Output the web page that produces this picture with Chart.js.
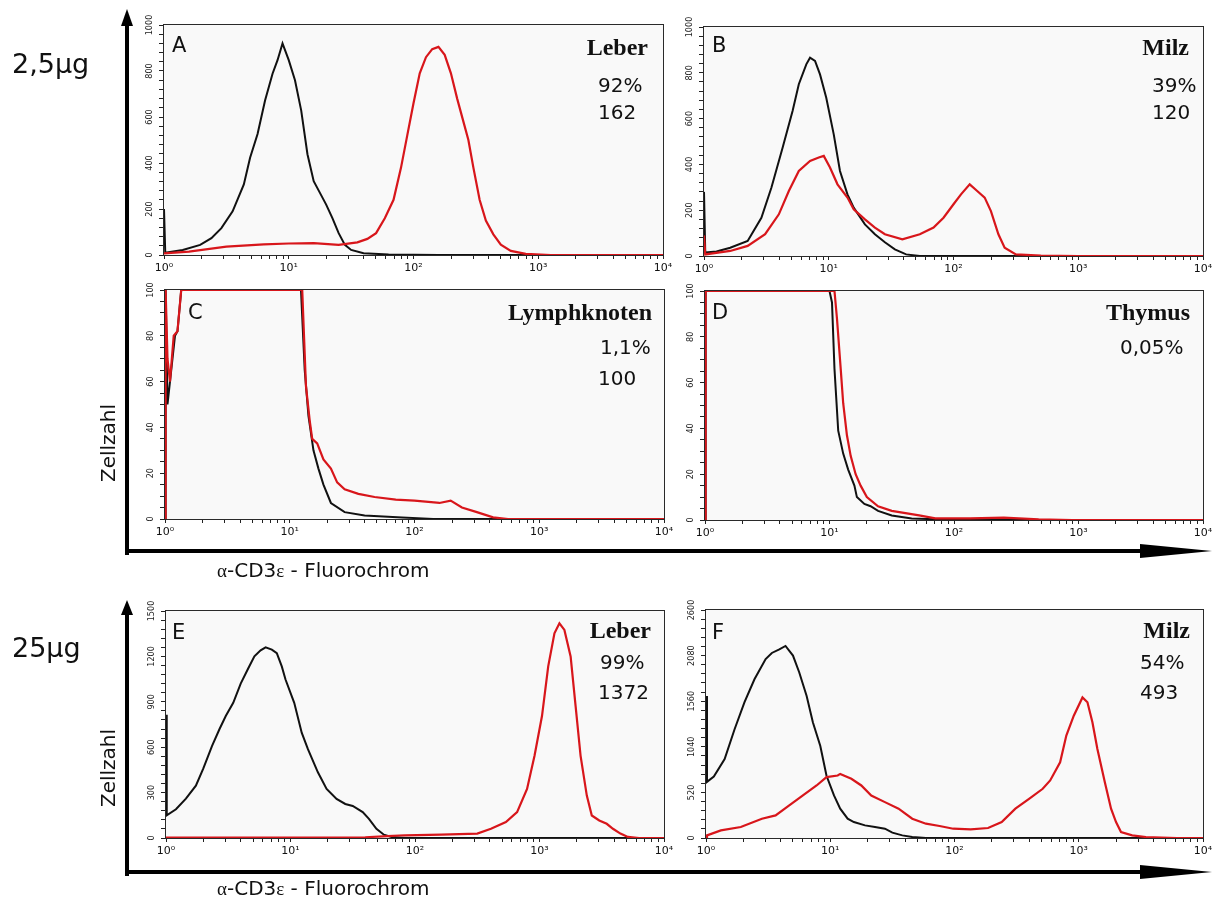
<!DOCTYPE html>
<html lang="de">
<head>
    <meta charset="UTF-8">
    <title>α-CD3ε Histogramme</title>
    <script src="https://cdn.jsdelivr.net/npm/chart.js"></script>
    <style>
        body {
            margin: 0;
            background: #fff;
            font-family: "DejaVu Sans", Arial, sans-serif;
            color: #111;
        }

        #stage {
            position: relative;
            width: 1216px;
            height: 900px;
            overflow: hidden;
        }

        #stage canvas {
            position: absolute;
        }

        #arrows {
            position: absolute;
            left: 0;
            top: 0;
            z-index: 2;
        }

        .txt {
            position: absolute;
            z-index: 3;
            line-height: 1;
            white-space: nowrap;
            transform: translateY(-50%);
        }

        .tag { font-size: 21px; }
        .organ { font-family: "Liberation Serif", "Times New Roman", serif; font-weight: bold; font-size: 24px; }
        .num { font-size: 20px; }
        .dose { font-size: 27px; }
        .axis { font-size: 20px; }
        .greek { font-family: "Liberation Serif", serif; font-size: 19px; }
        .rot { transform: translate(-50%, -50%) rotate(-90deg); }
    </style>
</head>
<body>
<div id="stage">
    <svg id="arrows" width="1216" height="900">
        <g fill="#000">
            <rect x="125" y="22" width="4" height="533"/>
            <polygon points="121,26 133,26 127,9"/>
            <rect x="125" y="549" width="1017" height="4"/>
            <polygon points="1140,544 1140,558 1212,551"/>
            <rect x="125" y="612" width="4" height="264"/>
            <polygon points="121,615 133,615 127,600"/>
            <rect x="125" y="870" width="1017" height="4"/>
            <polygon points="1140,865 1140,879 1212,872"/>
        </g>
    </svg>

    <div class="txt dose" style="left:12px; top:63px;">2,5μg</div>
    <div class="txt dose" style="left:12px; top:647px;">25μg</div>
    <div class="txt axis rot" style="left:108px; top:443px;">Zellzahl</div>
    <div class="txt axis rot" style="left:108px; top:768px;">Zellzahl</div>
    <div class="txt axis" style="left:217px; top:570px;"><span class="greek">α</span>-CD3<span class="greek">ε</span> - Fluorochrom</div>
    <div class="txt axis" style="left:217px; top:888px;"><span class="greek">α</span>-CD3<span class="greek">ε</span> - Fluorochrom</div>

    <!-- panel A -->
    <div class="txt tag" style="left:172px; top:45px;">A</div>
    <div class="txt organ" style="right:568px; top:47px;">Leber</div>
    <div class="txt num" style="left:598px; top:85px;">92%</div>
    <div class="txt num" style="left:598px; top:112px;">162</div>
    <!-- panel B -->
    <div class="txt tag" style="left:712px; top:45px;">B</div>
    <div class="txt organ" style="right:27px; top:47px;">Milz</div>
    <div class="txt num" style="left:1152px; top:85px;">39%</div>
    <div class="txt num" style="left:1152px; top:112px;">120</div>
    <!-- panel C -->
    <div class="txt tag" style="left:188px; top:312px;">C</div>
    <div class="txt organ" style="right:564px; top:312px;">Lymphknoten</div>
    <div class="txt num" style="left:600px; top:347px;">1,1%</div>
    <div class="txt num" style="left:598px; top:378px;">100</div>
    <!-- panel D -->
    <div class="txt tag" style="left:712px; top:312px;">D</div>
    <div class="txt organ" style="right:26px; top:312px;">Thymus</div>
    <div class="txt num" style="left:1120px; top:347px;">0,05%</div>
    <!-- panel E -->
    <div class="txt tag" style="left:172px; top:632px;">E</div>
    <div class="txt organ" style="right:565px; top:630px;">Leber</div>
    <div class="txt num" style="left:600px; top:662px;">99%</div>
    <div class="txt num" style="left:598px; top:692px;">1372</div>
    <!-- panel F -->
    <div class="txt tag" style="left:712px; top:632px;">F</div>
    <div class="txt organ" style="right:26px; top:630px;">Milz</div>
    <div class="txt num" style="left:1140px; top:662px;">54%</div>
    <div class="txt num" style="left:1140px; top:692px;">493</div>
</div>

<script>
    // each point: [log10 of fluorescence intensity, cell count]
    const aBlack = [[0, 200], [0.01, 10], [0.15, 22], [0.29, 44], [0.38, 73], [0.46, 117], [0.55, 190], [0.64, 307], [0.69, 423], [0.75, 526], [0.81, 672], [0.87, 788], [0.91, 847], [0.95, 920], [1.0, 847], [1.05, 760], [1.1, 628], [1.15, 438], [1.2, 321], [1.25, 270], [1.3, 219], [1.35, 160], [1.4, 95], [1.45, 44], [1.5, 22], [1.6, 8], [1.8, 2], [2.2, 0], [4, 0]];
    const aRed = [[0, 7], [0.2, 15], [0.5, 36], [0.8, 46], [1.0, 50], [1.2, 52], [1.4, 44], [1.55, 55], [1.63, 70], [1.7, 95], [1.77, 160], [1.84, 240], [1.9, 380], [1.95, 520], [2.0, 660], [2.05, 790], [2.1, 860], [2.15, 895], [2.2, 905], [2.25, 870], [2.3, 790], [2.35, 680], [2.4, 580], [2.44, 500], [2.48, 380], [2.53, 240], [2.58, 150], [2.64, 90], [2.7, 45], [2.78, 18], [2.9, 5], [3.1, 0], [4, 0]];

    const bBlack = [[0, 280], [0.01, 15], [0.1, 20], [0.21, 36], [0.35, 66], [0.46, 167], [0.54, 298], [0.63, 473], [0.71, 633], [0.76, 750], [0.82, 837], [0.85, 866], [0.89, 852], [0.93, 793], [0.98, 691], [1.04, 531], [1.09, 371], [1.15, 269], [1.2, 211], [1.29, 138], [1.37, 95], [1.45, 60], [1.53, 29], [1.62, 7], [1.73, 0], [4, 0]];
    const bRed = [[0, 90], [0.01, 7], [0.21, 22], [0.35, 44], [0.49, 95], [0.6, 182], [0.68, 284], [0.76, 371], [0.85, 415], [0.92, 430], [0.96, 437], [1.01, 386], [1.07, 313], [1.15, 255], [1.2, 204], [1.29, 160], [1.37, 124], [1.45, 95], [1.59, 73], [1.73, 95], [1.84, 124], [1.92, 167], [2.0, 226], [2.06, 269], [2.13, 313], [2.19, 284], [2.25, 255], [2.3, 196], [2.36, 95], [2.41, 36], [2.5, 7], [2.7, 2], [3.0, 0], [4, 0]];

    const cBlack = [[0, 0], [0.005, 100], [0.02, 50], [0.05, 65], [0.08, 80], [0.1, 82], [0.13, 100], [1.09, 100], [1.12, 65], [1.15, 45], [1.19, 30], [1.23, 22], [1.27, 15], [1.33, 7], [1.44, 3], [1.6, 1.5], [1.9, 0.7], [2.15, 0], [4, 0]];
    const cRed = [[0, 0], [0.005, 100], [0.02, 70], [0.04, 60], [0.07, 80], [0.1, 82], [0.13, 100], [1.1, 100], [1.13, 58], [1.16, 43], [1.18, 35], [1.22, 33], [1.27, 26], [1.33, 22], [1.38, 16], [1.44, 13], [1.55, 11], [1.68, 9.6], [1.85, 8.5], [2.0, 8], [2.2, 7], [2.29, 8], [2.38, 5], [2.5, 3], [2.63, 0.7], [2.75, 0], [4, 0]];

    const dBlack = [[0, 0], [0.005, 100], [1.0, 100], [1.02, 95], [1.04, 66], [1.07, 39], [1.11, 29], [1.15, 22], [1.2, 15], [1.22, 10], [1.28, 7], [1.33, 6], [1.39, 4], [1.5, 2], [1.66, 0.7], [1.85, 0.3], [2.27, 0.3], [2.54, 0], [4, 0]];
    const dRed = [[0, 0], [0.005, 100], [1.04, 100], [1.06, 88], [1.09, 66], [1.11, 51], [1.14, 37], [1.17, 28], [1.21, 20], [1.25, 15], [1.3, 10], [1.39, 6], [1.5, 4], [1.61, 3], [1.72, 2], [1.85, 0.7], [2.13, 0.7], [2.4, 1], [2.68, 0.3], [2.95, 0], [4, 0]];

    const eBlack = [[0, 815], [0.006, 150], [0.08, 190], [0.16, 260], [0.24, 346], [0.3, 460], [0.37, 609], [0.43, 720], [0.48, 806], [0.54, 893], [0.6, 1020], [0.66, 1120], [0.71, 1200], [0.76, 1240], [0.8, 1260], [0.85, 1245], [0.89, 1222], [0.93, 1134], [0.96, 1047], [1.03, 893], [1.09, 696], [1.14, 587], [1.22, 434], [1.29, 324], [1.37, 258], [1.44, 225], [1.5, 212], [1.58, 171], [1.63, 127], [1.69, 61], [1.75, 22], [1.81, 7], [1.92, 0], [4, 0]];
    const eRed = [[0, 3], [1.0, 3], [1.6, 5], [1.78, 12], [1.92, 18], [2.21, 22], [2.5, 29], [2.61, 61], [2.73, 105], [2.82, 171], [2.9, 324], [2.96, 543], [3.02, 806], [3.07, 1134], [3.12, 1353], [3.16, 1419], [3.2, 1375], [3.25, 1200], [3.29, 871], [3.33, 543], [3.38, 280], [3.42, 149], [3.48, 116], [3.54, 94], [3.59, 61], [3.65, 29], [3.71, 7], [3.8, 0], [4, 0]];

    const fBlack = [[0, 1620], [0.008, 640], [0.063, 700], [0.15, 900], [0.23, 1240], [0.31, 1550], [0.39, 1810], [0.48, 2040], [0.53, 2110], [0.59, 2150], [0.64, 2190], [0.7, 2080], [0.75, 1890], [0.81, 1620], [0.86, 1320], [0.92, 1050], [0.97, 710], [1.03, 485], [1.08, 334], [1.14, 220], [1.19, 182], [1.28, 144], [1.36, 125], [1.44, 106], [1.5, 61], [1.58, 30], [1.66, 11], [1.77, 0], [4, 0]];
    const fRed = [[0, 0], [0.008, 30], [0.12, 87], [0.28, 125], [0.45, 220], [0.56, 258], [0.67, 371], [0.78, 485], [0.89, 599], [0.97, 694], [1.06, 713], [1.08, 731], [1.17, 675], [1.25, 599], [1.33, 485], [1.44, 409], [1.55, 334], [1.66, 220], [1.77, 163], [1.88, 137], [1.99, 106], [2.13, 99], [2.27, 114], [2.38, 182], [2.49, 334], [2.6, 447], [2.71, 561], [2.77, 656], [2.85, 864], [2.9, 1168], [2.96, 1395], [3.03, 1603], [3.07, 1547], [3.11, 1319], [3.15, 1016], [3.21, 637], [3.26, 334], [3.3, 182], [3.34, 68], [3.43, 30], [3.54, 11], [3.79, 0], [4, 0]];

    // axes
    const xTickLabels = ['10⁰', '10¹', '10²', '10³', '10⁴'];
    const yAxisMax = [1000, 1000, 100, 100, 1500, 2600];
    const yLabelStep = [200, 200, 20, 20, 300, 520];
    const yMinorStep = [40, 40, 5, 5, 60, 104];

    const blackSeries = [aBlack, bBlack, cBlack, dBlack, eBlack, fBlack];
    const redSeries = [aRed, bRed, cRed, dRed, eRed, fRed];

    // plot boxes on the page: left, top, right, bottom
    const plotBoxes = [
        [164, 25, 663, 255],
        [704, 27, 1203, 256],
        [165, 290, 664, 519],
        [705, 291, 1203, 520],
        [166, 611, 664, 838],
        [706, 610, 1203, 838]
    ];
    const PL = 40, PT = 14, PR = 14, PB = 26;
    const yTickFamily = '"DejaVu Sans Condensed", "DejaVu Sans", sans-serif';

    const plotFrame = {
        id: 'plotFrame',
        beforeDraw(chart) {
            const a = chart.chartArea;
            chart.ctx.save();
            chart.ctx.fillStyle = '#f9f9f9';
            chart.ctx.fillRect(a.left, a.top, a.width, a.height);
            chart.ctx.restore();
        },
        beforeDatasetsDraw(chart) {
            const a = chart.chartArea;
            chart.ctx.save();
            chart.ctx.strokeStyle = '#2a2a2a';
            chart.ctx.lineWidth = 1;
            chart.ctx.strokeRect(a.left - 0.5, a.top - 0.5, a.width + 1, a.height + 1);
            chart.ctx.restore();
        }
    };

    function toPoints(pairs) {
        return pairs.map(p => ({x: Math.pow(10, p[0]), y: p[1]}));
    }

    function textWidth(str, font) {
        const ctx = document.createElement('canvas').getContext('2d');
        ctx.font = font;
        return ctx.measureText(str).width;
    }

    function isDecade(v) {
        const e = Math.log10(v);
        return Math.abs(e - Math.round(e)) < 1e-9;
    }

    function makePanel(i) {
        const [l, t, r, b] = plotBoxes[i];
        const stage = document.getElementById('stage');
        const cv = document.createElement('canvas');
        cv.width = r - l + PL + PR;
        cv.height = b - t + PT + PB;
        cv.style.left = (l - PL) + 'px';
        cv.style.top = (t - PT) + 'px';
        stage.insertBefore(cv, stage.firstChild);

        // rotated y labels are centred by hand: keep them about 14px left of the frame
        const widest = textWidth(String(yAxisMax[i]), 'normal 9px ' + yTickFamily);
        const yPad = 9 - widest / 2;

        new Chart(cv.getContext('2d'), {
            type: 'line',
            data: {
                datasets: [
                    {data: toPoints(redSeries[i]), borderColor: '#d8161b', borderWidth: 2.2, order: 0},
                    {data: toPoints(blackSeries[i]), borderColor: '#111', borderWidth: 2, order: 1}
                ]
            },
            options: {
                responsive: false,
                animation: false,
                devicePixelRatio: 1,
                events: [],
                parsing: false,
                elements: {point: {radius: 0}, line: {tension: 0, fill: false}},
                layout: {padding: {top: PT, right: PR, left: 0, bottom: 0}},
                plugins: {legend: {display: false}, tooltip: {enabled: false}},
                scales: {
                    x: {
                        type: 'logarithmic',
                        min: 1,
                        max: 10000,
                        afterBuildTicks(scale) {
                            // keep 1..9 per decade, drop the 15/150/1500 extras
                            scale.ticks = scale.ticks.filter(tk => {
                                const m = tk.value / Math.pow(10, Math.floor(Math.log10(tk.value) + 1e-9));
                                return Math.abs(m - Math.round(m)) < 1e-6;
                            });
                        },
                        afterFit(scale) {
                            scale.height = PB;
                            scale.paddingLeft = 0;
                            scale.paddingRight = 0;
                        },
                        border: {display: false},
                        grid: {drawOnChartArea: false, drawTicks: true, tickLength: 4, color: '#222'},
                        ticks: {
                            autoSkip: false,
                            minRotation: 0,
                            maxRotation: 0,
                            padding: 3,
                            color: '#111',
                            font: {family: '"DejaVu Sans", sans-serif', size: 11},
                            callback: v => isDecade(v) ? xTickLabels[Math.round(Math.log10(v))] : ''
                        }
                    },
                    y: {
                        type: 'linear',
                        min: 0,
                        max: yAxisMax[i],
                        afterFit(scale) {
                            scale.width = PL;
                            scale.paddingTop = 0;
                            scale.paddingBottom = 0;
                        },
                        border: {display: false},
                        grid: {drawOnChartArea: false, drawTicks: true, tickLength: 5, color: '#222'},
                        ticks: {
                            stepSize: yMinorStep[i],
                            autoSkip: false,
                            minRotation: 90,
                            maxRotation: 90,
                            crossAlign: 'center',
                            padding: yPad,
                            color: '#222',
                            font: {family: yTickFamily, size: 9},
                            callback: v => (v % yLabelStep[i] === 0) ? String(v) : ''
                        }
                    }
                }
            },
            plugins: [plotFrame]
        });
    }

    for (let i = 0; i < plotBoxes.length; i++) {
        makePanel(i);
    }
</script>
</body>
</html>
